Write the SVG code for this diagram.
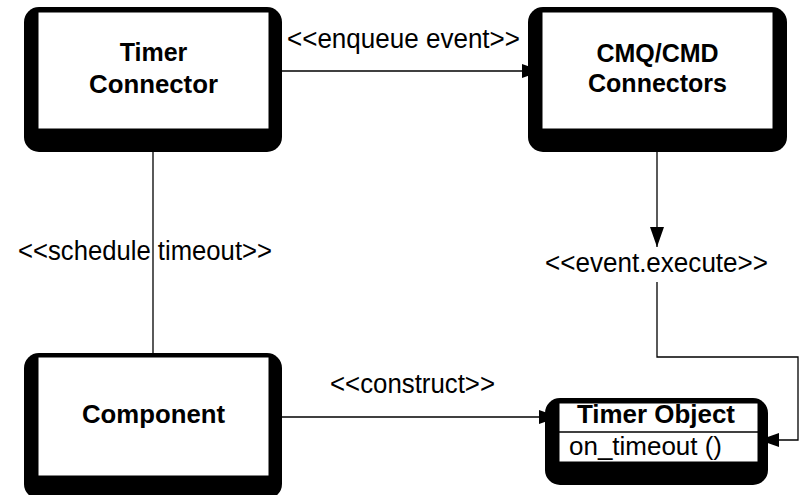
<svg xmlns="http://www.w3.org/2000/svg" width="800" height="495" viewBox="0 0 800 495">
  <style>
    text { font-family: "Liberation Sans", Arial, sans-serif; fill: #000; }
    .title { font-size: 25px; font-weight: bold; text-anchor: middle; }
    .label { font-size: 27px; text-anchor: middle; }
    .member { font-size: 26px; }
    .shadow { fill: #000; }
    .face { fill: #fff; stroke: #000; stroke-width: 1; }
    .wire { fill: none; stroke: #000; stroke-width: 1.3; }
  </style>
  <defs>
    <marker id="arrow" markerUnits="userSpaceOnUse" markerWidth="20" markerHeight="14" refX="20" refY="7" orient="auto">
      <path d="M0,0 L20,7 L0,14 Z" fill="#000"/>
    </marker>
  </defs>
  <rect width="800" height="495" fill="#fff"/>

  <!-- connectors -->
  <g id="connectors">
    <path class="wire" d="M269,71 L542,71" marker-end="url(#arrow)"/>
    <path class="wire" d="M153,357 L153,130" marker-end="url(#arrow)"/>
    <path class="wire" d="M657,129 L657,247" marker-end="url(#arrow)"/>
    <path class="wire" d="M657,282 L657,357 L798,357 L798,440 L759,440" marker-end="url(#arrow)"/>
    <path class="wire" d="M269,417 L559,417" marker-end="url(#arrow)"/>
    <text class="label" x="403.5" y="48" textLength="233" lengthAdjust="spacingAndGlyphs">&lt;&lt;enqueue event&gt;&gt;</text>
    <text class="label" x="145" y="260" textLength="254" lengthAdjust="spacingAndGlyphs">&lt;&lt;schedule timeout&gt;&gt;</text>
    <text class="label" x="656.5" y="272" textLength="223" lengthAdjust="spacingAndGlyphs">&lt;&lt;event.execute&gt;&gt;</text>
    <text class="label" x="412.5" y="393" textLength="165" lengthAdjust="spacingAndGlyphs">&lt;&lt;construct&gt;&gt;</text>
  </g>

  <!-- Timer Connector -->
  <g id="timer-connector">
    <rect class="shadow" x="24" y="7" width="258" height="145" rx="15"/>
    <rect class="face" x="38" y="12" width="231" height="117"/>
    <text class="title" x="153.5" y="61">Timer</text>
    <text class="title" x="153.5" y="93" textLength="129" lengthAdjust="spacingAndGlyphs">Connector</text>
  </g>

  <!-- CMQ/CMD Connectors -->
  <g id="cmq-cmd-connectors">
    <rect class="shadow" x="528" y="7" width="259" height="145" rx="15"/>
    <rect class="face" x="542" y="12" width="231" height="117"/>
    <text class="title" x="657.5" y="62">CMQ/CMD</text>
    <text class="title" x="657.5" y="92">Connectors</text>
  </g>

  <!-- Component -->
  <g id="component">
    <rect class="shadow" x="24" y="353" width="258" height="146" rx="15"/>
    <rect class="face" x="38" y="357" width="231" height="119"/>
    <text class="title" x="153.5" y="423" textLength="143" lengthAdjust="spacingAndGlyphs">Component</text>
  </g>

  <!-- Timer Object -->
  <g id="timer-object">
    <rect class="shadow" x="545" y="398" width="223" height="87" rx="15"/>
    <rect class="face" x="559" y="403" width="199" height="59"/>
    <line x1="559" y1="432" x2="758" y2="432" stroke="#000" stroke-width="1.3"/>
    <text class="title" x="656" y="423" textLength="158" lengthAdjust="spacingAndGlyphs">Timer Object</text>
    <text class="member" x="569" y="455" textLength="153" lengthAdjust="spacingAndGlyphs">on_timeout ()</text>
  </g>
</svg>
